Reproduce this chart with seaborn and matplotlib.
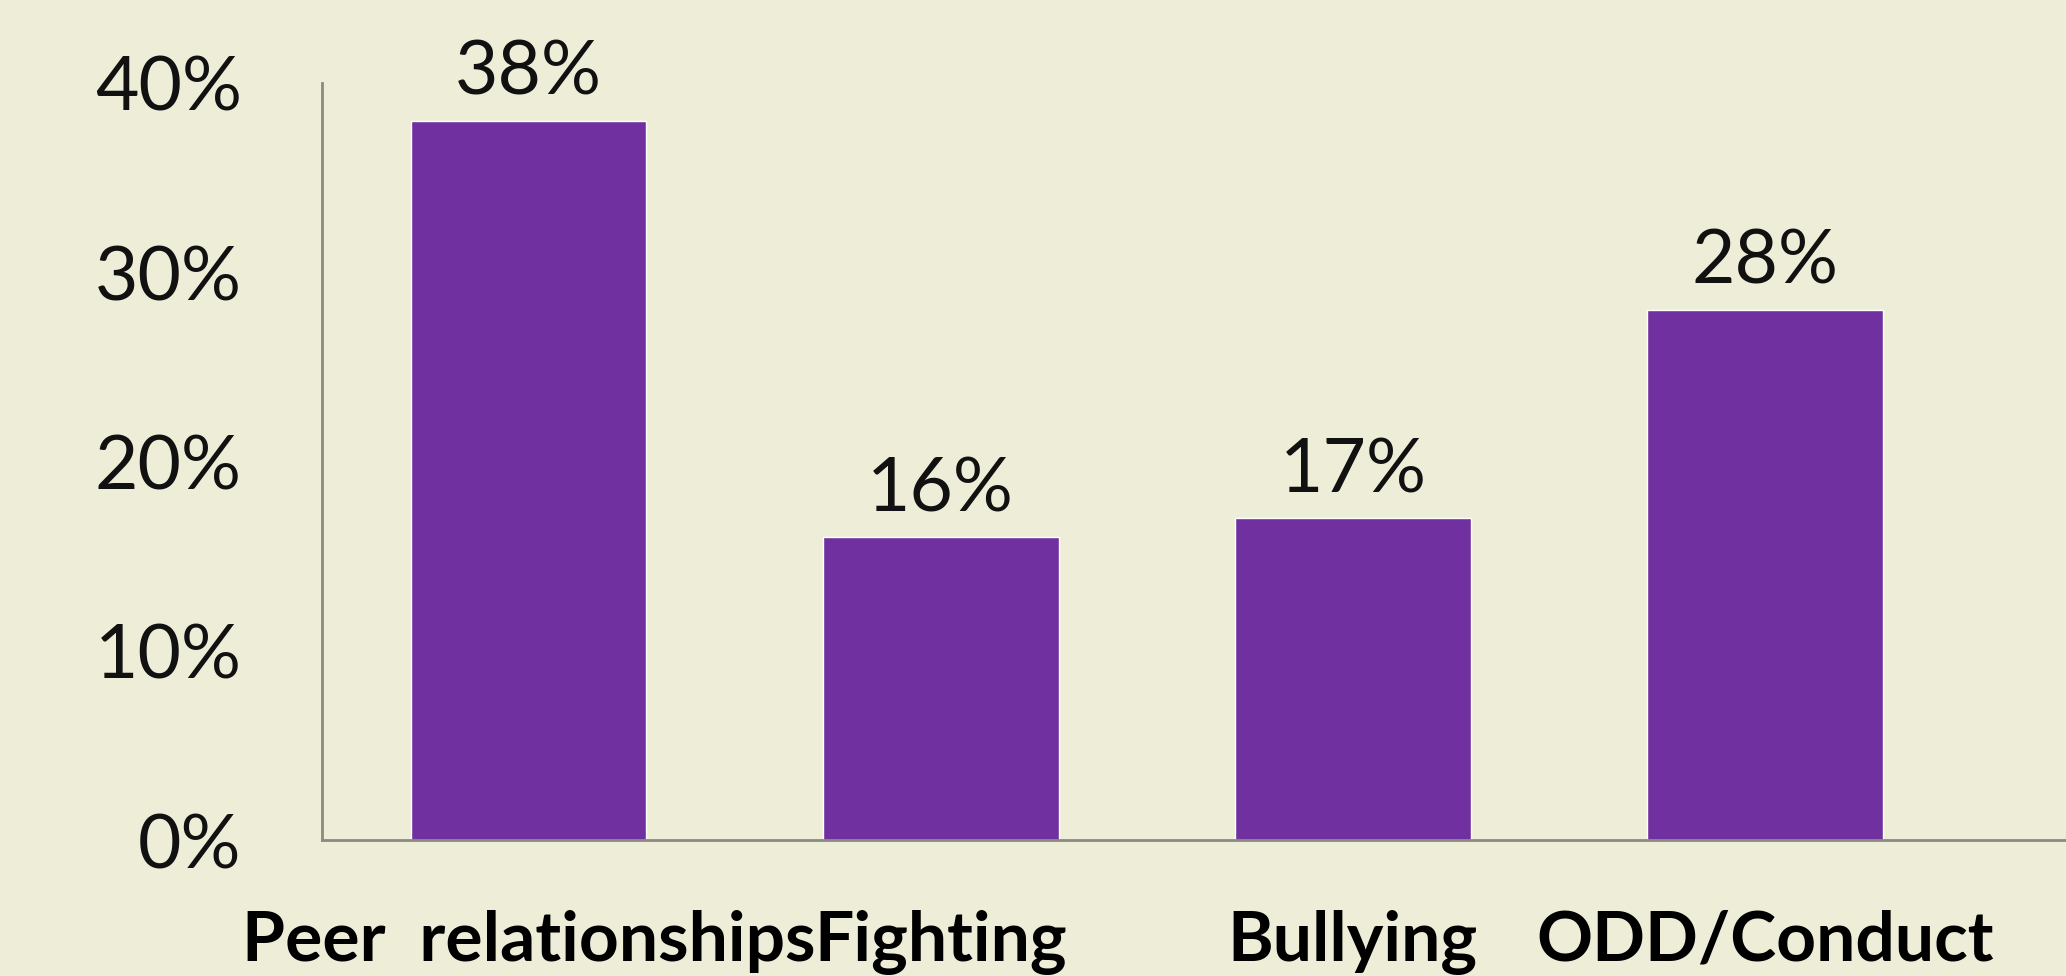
import matplotlib
matplotlib.use("Agg")
import matplotlib.pyplot as plt
import seaborn as sns
import pandas as pd

categories = ["Peer  relationships", "Fighting", "Bullying", "ODD/Conduct"]
values = [0.38, 0.16, 0.17, 0.28]
value_labels = ["38%", "16%", "17%", "28%"]
y_ticks = [0.0, 0.1, 0.2, 0.3, 0.4]
y_tick_labels = ["0%", "10%", "20%", "30%", "40%"]

bg = "#EEEED8"
bar_color = "#7030A0"

sns.set_theme(style="white")
plt.rcParams["font.family"] = ["Lato", "DejaVu Sans"]

df = pd.DataFrame({"category": categories, "value": values})

fig = plt.figure(figsize=(20.66, 9.76), dpi=100, facecolor=bg)
ax = fig.add_axes([0.156, 0.139, 0.844, 0.776])
ax.set_facecolor(bg)

sns.barplot(data=df, x="category", y="value", color=bar_color,
            saturation=1, width=0.572, ax=ax)

# value labels above the bars
for i, (v, lab) in enumerate(zip(values, value_labels)):
    ax.text(i, v + 0.007, lab, ha="center", va="bottom", fontsize=54, color="#111111")

ax.set_ylim(0, 0.4)
ax.set_xlim(-0.5, 3.73)
ax.set_yticks(y_ticks)
ax.set_yticklabels(y_tick_labels, fontsize=54, color="#111111")
ax.tick_params(axis="y", length=0, pad=58)
ax.tick_params(axis="x", length=0, pad=50)
for lab in ax.get_xticklabels():
    lab.set_fontsize(50)
    lab.set_fontweight("bold")
    lab.set_color("#000000")
ax.set_xlabel("")
ax.set_ylabel("")

for s in ["top", "right"]:
    ax.spines[s].set_visible(False)
for s in ["left", "bottom"]:
    ax.spines[s].set_color("#8A8A80")
    ax.spines[s].set_linewidth(2)

fig.savefig("out.png", dpi=100, facecolor=bg)
